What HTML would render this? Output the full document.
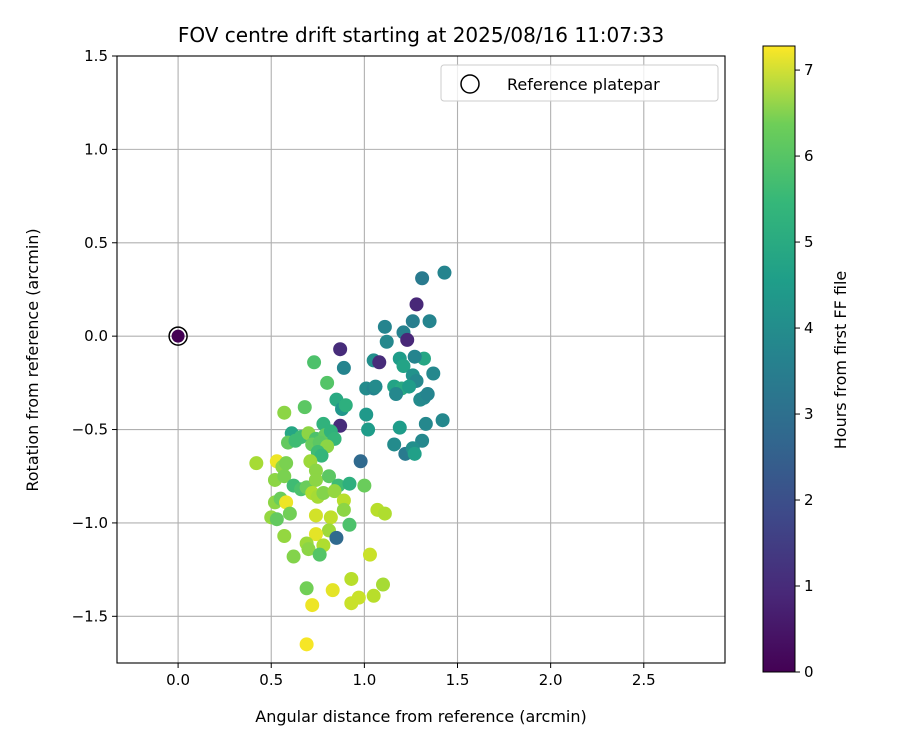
<!DOCTYPE html>
<html><head><meta charset="utf-8"><style>
body{margin:0;background:#fff;font-family:"Liberation Sans","DejaVu Sans",sans-serif}
svg text{font-family:"DejaVu Sans","Liberation Sans",sans-serif}
</style></head><body>
<svg id="chart" width="900" height="750">
<defs><linearGradient id="vir" x1="0" y1="1" x2="0" y2="0">
<stop offset="0" stop-color="#440154"/><stop offset="0.125" stop-color="#482878"/><stop offset="0.25" stop-color="#3e4989"/><stop offset="0.375" stop-color="#31688e"/><stop offset="0.5" stop-color="#26828e"/><stop offset="0.625" stop-color="#1f9e89"/><stop offset="0.75" stop-color="#35b779"/><stop offset="0.875" stop-color="#6ece58"/><stop offset="1" stop-color="#fde725"/>
</linearGradient></defs>
<g id="grid"></g><g id="pts"></g><g id="axes"></g>
</svg>
<script>
const xs=[1.43,1.31,1.28,1.35,1.11,1.26,1.21,1.23,1.12,0.87,1.05,1.08,1.19,1.21,1.32,1.37,1.27,0.89,0.73,1.26,1.28,1.01,1.05,1.06,1.16,1.20,1.17,1.24,1.30,1.32,1.34,0.80,0.85,0.88,0.90,0.68,0.57,1.01,1.02,1.19,1.33,1.42,0.87,0.78,0.61,0.66,0.70,0.74,0.79,0.82,0.84,0.59,0.63,0.72,0.76,0.80,0.75,0.77,1.16,1.22,1.31,1.26,1.27,0.98,0.42,0.53,0.56,0.58,0.71,0.74,0.52,0.57,0.62,0.66,0.69,0.74,0.81,0.86,0.92,1.00,0.52,0.55,0.58,0.60,0.72,0.75,0.78,0.84,0.89,0.89,0.74,0.82,0.50,0.53,0.92,1.07,1.11,0.81,0.85,0.57,0.74,0.69,0.70,0.78,0.62,0.76,1.03,0.69,0.83,0.93,0.72,0.93,0.97,1.05,1.10,0.69];
const ys=[0.34,0.31,0.17,0.08,0.05,0.08,0.02,-0.02,-0.03,-0.07,-0.13,-0.14,-0.12,-0.16,-0.12,-0.20,-0.11,-0.17,-0.14,-0.21,-0.24,-0.28,-0.28,-0.27,-0.27,-0.28,-0.31,-0.27,-0.34,-0.33,-0.31,-0.25,-0.34,-0.39,-0.37,-0.38,-0.41,-0.42,-0.50,-0.49,-0.47,-0.45,-0.48,-0.47,-0.52,-0.54,-0.52,-0.55,-0.53,-0.51,-0.55,-0.57,-0.56,-0.58,-0.57,-0.59,-0.62,-0.64,-0.58,-0.63,-0.56,-0.60,-0.63,-0.67,-0.68,-0.67,-0.70,-0.68,-0.67,-0.72,-0.77,-0.75,-0.80,-0.82,-0.81,-0.77,-0.75,-0.80,-0.79,-0.80,-0.89,-0.87,-0.89,-0.95,-0.84,-0.86,-0.84,-0.83,-0.88,-0.93,-0.96,-0.97,-0.97,-0.98,-1.01,-0.93,-0.95,-1.04,-1.08,-1.07,-1.06,-1.11,-1.14,-1.12,-1.18,-1.17,-1.17,-1.35,-1.36,-1.30,-1.44,-1.43,-1.40,-1.39,-1.33,-1.65];
const hours=[3.3,3.0,0.8,3.3,3.3,3.1,3.2,0.8,3.4,0.9,3.6,0.9,4.0,4.2,4.3,3.4,3.3,3.3,5.2,3.7,3.4,3.5,3.3,3.5,4.2,4.4,3.4,4.0,3.5,3.4,3.3,5.3,4.4,3.8,4.6,5.4,6.0,3.9,4.0,4.0,3.4,3.4,0.9,4.7,4.3,5.0,6.0,5.2,5.5,4.7,4.8,5.5,5.0,5.6,5.4,6.0,5.0,4.8,3.5,3.0,3.4,3.6,4.1,2.5,6.3,7.1,6.0,5.8,6.2,6.0,6.0,5.8,5.0,5.2,5.6,6.0,5.4,5.0,4.6,5.6,6.0,5.6,7.1,5.7,6.4,6.3,5.9,6.1,6.5,6.0,6.8,6.6,6.1,5.5,5.2,6.5,6.4,6.2,2.5,6.1,7.0,6.2,6.0,6.4,5.9,5.3,6.7,5.7,7.0,6.5,7.1,6.7,6.7,6.5,6.3,7.2];
const xTicks=[0.0,0.5,1.0,1.5,2.0,2.5];
const yTicks=[1.5,1.0,0.5,0.0,-0.5,-1.0,-1.5];
const cTicks=[0,1,2,3,4,5,6,7];
const L=117,R=725,T=56,B=663,xmin=-0.328,xmax=2.936,ymin=-1.75,ymax=1.5,hmax=7.28;
const sx=v=>L+(v-xmin)/(xmax-xmin)*(R-L);
const sy=v=>B-(v-ymin)/(ymax-ymin)*(B-T);
const CB={x:763,w:32,t:46,b:672};
const sc=h=>CB.b-h/hmax*(CB.b-CB.t);
const V=[[68,1,84],[72,40,120],[62,73,137],[49,104,142],[38,130,142],[31,158,137],[53,183,121],[110,206,88],[181,222,43],[253,231,37]];
function vir(h){let t=Math.max(0,Math.min(1,h/hmax))*(V.length-1);let i=Math.min(V.length-2,Math.floor(t)),f=t-i;const c=V[i].map((a,k)=>Math.round(a+(V[i+1][k]-a)*f));return `rgb(${c})`;}
const NS="http://www.w3.org/2000/svg";
function mk(tag,parent,attrs){const e=document.createElementNS(NS,tag);for(const k in attrs)e.setAttribute(k,attrs[k]);parent.appendChild(e);return e;}
const g=document.getElementById('grid'),p=document.getElementById('pts'),a=document.getElementById('axes');
xTicks.forEach(v=>{const l=mk('line',g,{x1:sx(v),x2:sx(v),y1:T,y2:B,stroke:'#b0b0b0','stroke-width':1.1});


const t=mk('line',a,{x1:sx(v),x2:sx(v),y1:B,y2:B+5,stroke:'#000'});


const tx=mk('text',a,{x:sx(v),y:B+22,'text-anchor':'middle','font-size':15});tx.textContent=v.toFixed(1);

});
yTicks.forEach(v=>{const l=mk('line',g,{x1:L,x2:R,y1:sy(v),y2:sy(v),stroke:'#b0b0b0','stroke-width':1.1});


const t=mk('line',a,{x1:L-5,x2:L,y1:sy(v),y2:sy(v),stroke:'#000'});


const tx=mk('text',a,{x:L-9,y:sy(v)+5,'text-anchor':'end','font-size':15});tx.textContent=v.toFixed(1).replace('-','\u2212');

});
const ref=mk('circle',p,{cx:sx(0),cy:sy(0),r:6.5,fill:vir(0)});


const ring=mk('circle',p,{cx:sx(0),cy:sy(0),r:9,fill:'none',stroke:'#000','stroke-width':1.5});


xs.forEach((x,i)=>{const c=mk('circle',p,{cx:sx(x),cy:sy(ys[i]),r:7,fill:vir(hours[i])});

});
const fr=mk('rect',a,{x:L,y:T,width:R-L,height:B-T,fill:'none',stroke:'#000','stroke-width':1.1});


const cb=mk('rect',a,{x:CB.x,y:CB.t,width:CB.w,height:CB.b-CB.t,fill:'url(#vir)',stroke:'#000','stroke-width':1});


cTicks.forEach(v=>{const t=mk('line',a,{x1:CB.x+CB.w,x2:CB.x+CB.w+5,y1:sc(v),y2:sc(v),stroke:'#000'});


const tx=mk('text',a,{x:CB.x+CB.w+9,y:sc(v)+5,'font-size':15});tx.textContent=v;

});
</script>
<svg style="position:absolute;left:0;top:0" width="900" height="750">
<text x="421" y="42" text-anchor="middle" font-size="20">FOV centre drift starting at 2025/08/16 11:07:33</text>
<text x="421" y="722" text-anchor="middle" font-size="16">Angular distance from reference (arcmin)</text>
<text transform="translate(38,360) rotate(-90)" text-anchor="middle" font-size="16">Rotation from reference (arcmin)</text>
<text transform="translate(846,360) rotate(-90)" text-anchor="middle" font-size="16">Hours from first FF file</text>
<g>
<rect x="441" y="65" width="277" height="36" rx="3" fill="#fff" fill-opacity="0.8" stroke="#ccc"/>
<circle cx="470" cy="84" r="9" fill="none" stroke="#000" stroke-width="1.5"/>
<text x="507" y="90" font-size="16">Reference platepar</text>
</g>
</svg>
</body></html>
